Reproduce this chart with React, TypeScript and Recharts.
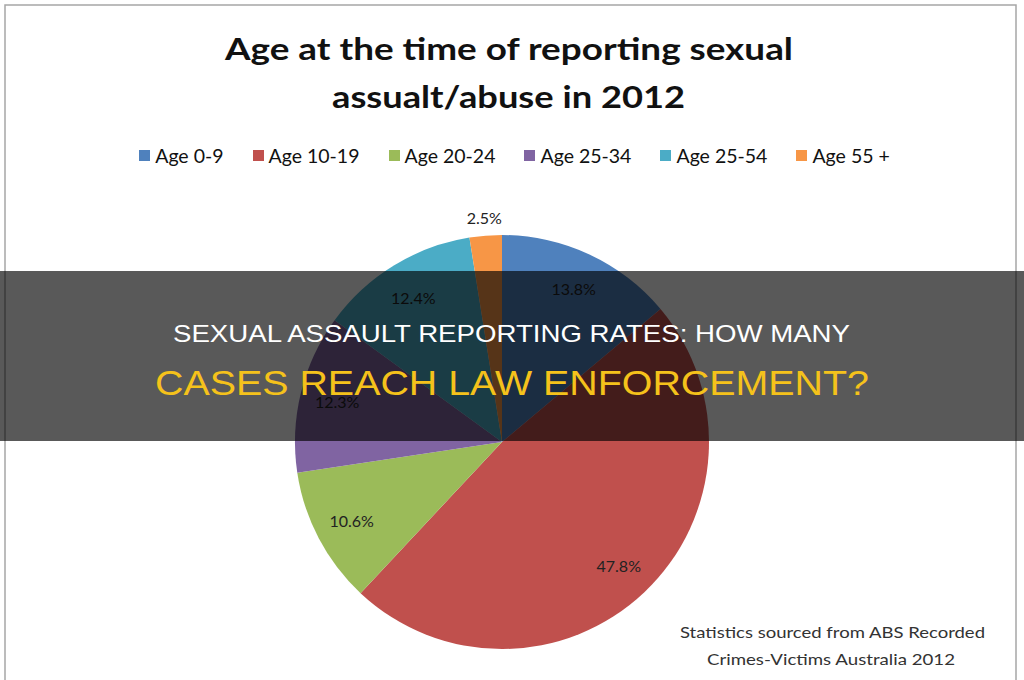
import { Cell, Legend, Pie, PieChart } from 'recharts'

const ageGroups = ['Age 0-9', 'Age 10-19', 'Age 20-24', 'Age 25-34', 'Age 25-54', 'Age 55 +']
const shares = [13.8, 47.8, 10.6, 12.3, 12.4, 2.5]
const sliceColors = ['#4f81bd', '#c0504d', '#9bbb59', '#8064a2', '#4bacc6', '#f79646']

const titleLines = ['Age at the time of reporting sexual', 'assualt/abuse in 2012']
const sourceLines = ['Statistics sourced from ABS Recorded', 'Crimes-Victims Australia 2012']
const bannerLines = ['SEXUAL ASSAULT REPORTING RATES: HOW MANY', 'CASES REACH LAW ENFORCEMENT?']

const pieData = ageGroups.map((name, i) => ({ name, value: shares[i] }))

const RAD = Math.PI / 180

function SliceLabel(props: any) {
  const { cx, cy, midAngle, outerRadius, value } = props
  // small slices get their label pushed outside, like Excel does
  const r = value < 5 ? outerRadius + 18 : outerRadius * 0.82
  const x = cx + r * Math.cos(-midAngle * RAD)
  const y = cy + r * Math.sin(-midAngle * RAD)
  return (
    <text
      x={x}
      y={y}
      textAnchor="middle"
      dominantBaseline="central"
      fontFamily="Lato, sans-serif"
      fontSize={16}
      fill="#222"
    >
      {value.toFixed(1)}%
    </text>
  )
}

function LegendRow(props: any) {
  const { payload } = props
  return (
    <div
      style={{
        display: 'flex',
        justifyContent: 'center',
        gap: 29,
        fontFamily: 'Lato, sans-serif',
        fontSize: 19.5,
        color: '#111',
        paddingLeft: 5,
      }}
    >
      {payload.map((item: any) => (
        <span key={item.value} style={{ display: 'flex', alignItems: 'center', gap: 5 }}>
          <span style={{ width: 11, height: 11, background: item.color, display: 'inline-block' }} />
          {item.value}
        </span>
      ))}
    </div>
  )
}

export default function App() {
  return (
    <div
      style={{
        position: 'fixed',
        left: 0,
        top: 0,
        width: 1024,
        height: 680,
        background: '#fff',
        overflow: 'hidden',
      }}
    >
      <PieChart width={1024} height={680} margin={{ top: 0, right: 0, bottom: 0, left: 0 }}>
        <Pie
          data={pieData}
          dataKey="value"
          nameKey="name"
          cx={502}
          cy={442}
          outerRadius={207}
          startAngle={90}
          endAngle={-270}
          stroke="none"
          label={SliceLabel}
          labelLine={false}
          isAnimationActive={false}
        >
          {pieData.map((d, i) => (
            <Cell key={d.name} fill={sliceColors[i]} />
          ))}
        </Pie>
        <Legend
          layout="horizontal"
          verticalAlign="middle"
          align="center"
          content={LegendRow}
          wrapperStyle={{ top: 144, left: 0, width: 1024 }}
        />
      </PieChart>

      <svg
        width={1024}
        height={680}
        style={{ position: 'absolute', left: 0, top: 0, pointerEvents: 'none' }}
      >
        <path d="M5,690 V5 H1016 V690" fill="none" stroke="#a6a6a6" strokeWidth={1.5} />
        <g fontFamily="Lato, sans-serif" fontWeight="bold" fontSize={31} fill="#111">
          <text x={225} y={60} textLength={568} lengthAdjust="spacingAndGlyphs">
            {titleLines[0]}
          </text>
          <text x={332} y={108} textLength={353} lengthAdjust="spacingAndGlyphs">
            {titleLines[1]}
          </text>
        </g>
        <g fontFamily="Lato, sans-serif" fontSize={16} fill="#333">
          <text x={680} y={638} textLength={305} lengthAdjust="spacingAndGlyphs">
            {sourceLines[0]}
          </text>
          <text x={707} y={665} textLength={248} lengthAdjust="spacingAndGlyphs">
            {sourceLines[1]}
          </text>
        </g>
        <rect x={0} y={271} width={1024} height={170} fill="rgba(0,0,0,0.65)" />
        <g fontFamily="'Liberation Sans', Arial, sans-serif">
          <text x={173} y={342} fontSize={24} fill="#fff" textLength={677} lengthAdjust="spacingAndGlyphs">
            {bannerLines[0]}
          </text>
          <text x={155} y={395} fontSize={35} fill="#f5c21b" textLength={714} lengthAdjust="spacingAndGlyphs">
            {bannerLines[1]}
          </text>
        </g>
      </svg>
    </div>
  )
}
